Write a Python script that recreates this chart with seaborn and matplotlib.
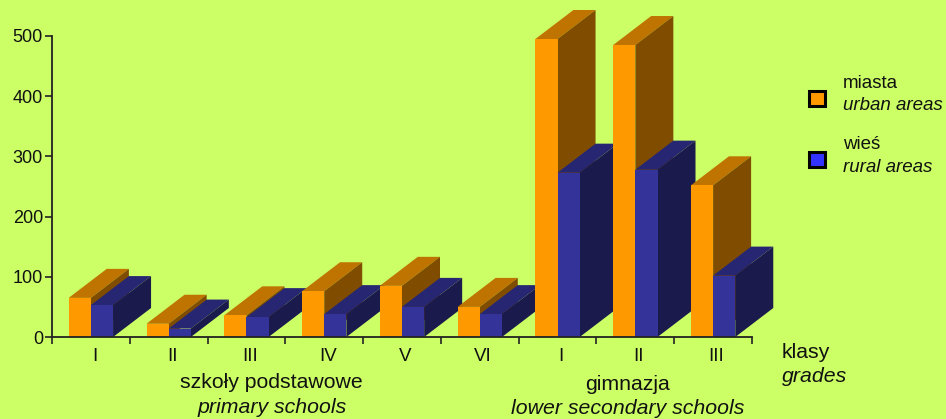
import matplotlib
matplotlib.use('Agg')
import matplotlib.pyplot as plt
from matplotlib.patches import Polygon, Rectangle
from matplotlib.transforms import ScaledTranslation
import pandas as pd
import seaborn as sns

# dane
grades = ['I', 'II', 'III', 'IV', 'V', 'VI', 'I ', 'II ', 'III ']
urban = [65, 22, 36, 76, 85, 50, 495, 485, 252]
rural = [53, 14, 33, 38, 50, 38, 273, 278, 102]
y_ticks = [0, 100, 200, 300, 400, 500]

BG = '#CCFF66'
W, H = 946, 419

sns.set_theme(style='white')
plt.rcParams['font.family'] = ['Liberation Sans', 'DejaVu Sans']

fig = plt.figure(figsize=(W / 100, H / 100), dpi=100, facecolor=BG)
# axes placed in pixels: x 52-752, y 36-337
ax = fig.add_axes([52 / W, 1 - 337 / H, 700 / W, 301 / H], facecolor='none')

df = pd.DataFrame({
    'grade': grades * 2,
    'value': urban + rural,
    'area': ['miasta'] * len(grades) + ['wies'] * len(grades),
})
sns.barplot(data=df, x='grade', y='value', hue='area', order=grades,
            palette={'miasta': '#FF9900', 'wies': '#333399'},
            width=0.57, gap=0, dodge=True, legend=False, ax=ax,
            saturation=1, linewidth=0)

ax.set_xlim(-0.5, 8.5)
ax.set_ylim(0, 500)

# pseudo-3D: depth in data units, 38px right and 29px up
dx = 38 / (700 / 9)
dy = 29 / (301 / 500)

shades = [('#BF7300', '#804D00'), ('#262673', '#1A1A4D')]
n = len(grades)
bars = ax.containers
for s, cont in enumerate(bars):
    top_c, side_c = shades[s]
    for i, bar in enumerate(cont.patches):
        z = 5 + 3 * i + s
        x0 = bar.get_x()
        x1 = x0 + bar.get_width()
        h = bar.get_height()
        bar.set_zorder(z + 0.5)
        bar.set_clip_on(False)
        ax.add_patch(Polygon([(x0, h), (x1, h), (x1 + dx, h + dy), (x0 + dx, h + dy)],
                             closed=True, fc=top_c, ec='none', zorder=z, clip_on=False))
        ax.add_patch(Polygon([(x1, 0), (x1 + dx, dy), (x1 + dx, h + dy), (x1, h)],
                             closed=True, fc=side_c, ec='none', zorder=z, clip_on=False))

for side in ['top', 'right']:
    ax.spines[side].set_visible(False)
for side in ['left', 'bottom']:
    ax.spines[side].set_linewidth(1.3)
    ax.spines[side].set_color('#222222')
    ax.spines[side].set_zorder(60)

ax.set_yticks(y_ticks)
ax.set_xticks([x - 0.5 for x in range(n + 1)], minor=True)
ax.set_xticks(range(n))
ax.set_xticklabels([g.strip() for g in grades])
ax.tick_params(axis='x', which='major', length=0, labelsize=13.5, pad=8, colors='#111111')
ax.tick_params(axis='x', which='minor', bottom=True, length=5, width=1.2, color='#222222')
ax.tick_params(axis='y', left=True, length=5, width=1.2, labelsize=13, pad=1.5,
               color='#222222', labelcolor='#111111')
ax.set_xlabel('')
ax.set_ylabel('')

# roman numerals sit a bit right of the group centre
shift = ScaledTranslation(3.5 / 100, 0, fig.dpi_scale_trans)
for lab in ax.get_xticklabels():
    lab.set_transform(lab.get_transform() + shift)


def px_text(x, y, s, style='normal', size=15.3, ha='left'):
    fig.text(x / W, 1 - y / H, s, style=style, fontsize=size, ha=ha, va='center', color='#111111')


px_text(271, 382, 'szkoły podstawowe', ha='center')
px_text(272, 407, 'primary schools', style='italic', ha='center')
px_text(628, 384, 'gimnazja', ha='center')
px_text(628, 408, 'lower secondary schools', style='italic', ha='center')
px_text(782, 352, 'klasy')
px_text(782, 376, 'grades', style='italic')

px_text(843, 83, 'miasta', size=13.5)
px_text(843, 106, 'urban areas', style='italic', size=13.5)
px_text(843, 144, 'wieś', size=13.5)
px_text(843, 167, 'rural areas', style='italic', size=13.5)

# legend keys
for top, color in [(91, '#FF9900'), (152, '#3333FF')]:
    fig.add_artist(Rectangle((808.5 / W, 1 - (top + 15) / H), 16 / W, 15 / H,
                             transform=fig.transFigure, fc=color, ec='black', lw=2.2))

fig.savefig('out.png', dpi=100, facecolor=BG)
